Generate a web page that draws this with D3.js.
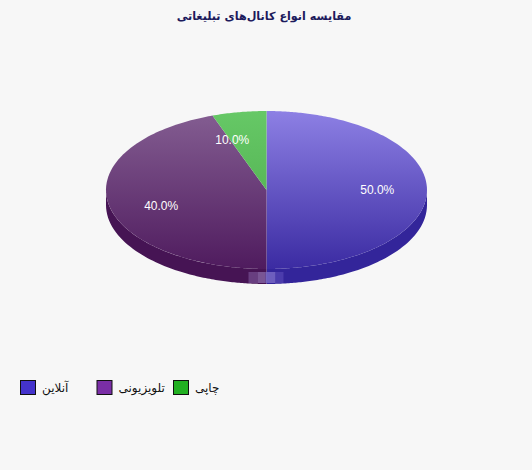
<!DOCTYPE html>
<html>
<head>
<meta charset="utf-8">
<script src="https://cdn.jsdelivr.net/npm/d3@7"></script>
<style>
  html, body { margin: 0; padding: 0; background: #f7f7f7; }
  svg { display: block; }
</style>
</head>
<body>
<svg id="chart" width="532" height="470"></svg>
<script>
/* --- Data --- */
const titleText = "مقایسه انواع کانال‌های تبلیغاتی";
const channels = ["آنلاین", "تلویزیونی", "چاپی"];
const shares = [50, 40, 10];

/* --- Style --- */
const COLORS = {
    legend: ["#4433cc", "#7a2ea6", "#22b022"],
    top: ["#8d80e4", "#845e92", "#66c866"],
    bottom: ["#3b2ba2", "#4f1b5e", "#4aa84a"],
    side: ["#33259a", "#461454", "#3f963f"]
};

const W = 532, H = 470;
const cx = 266.5, cy = 190, rx = 160.5, ry = 79, depth = 15;

const svg = d3.select("#chart");
svg.append("rect").attr("width", W).attr("height", H).attr("fill", "#f7f7f7");

// Title
svg.append("text")
    .attr("x", 264).attr("y", 20)
    .attr("text-anchor", "middle")
    .attr("font-family", "DejaVu Sans, sans-serif")
    .attr("font-size", 11.2)
    .attr("font-weight", "bold")
    .attr("fill", "#1c1a5c")
    .text(titleText);

const data = channels.map((c, i) => ({ name: c, value: shares[i], idx: i }));
const pie = d3.pie().value(d => d.value).sort(null);
const arcs = pie(data);
const total = d3.sum(shares);

// point on ellipse edge along screen angle (clockwise from top)
function edge(a, dy = 0) {
    const s = Math.sin(a), c = Math.cos(a);
    const r = 1 / Math.sqrt((s / rx) ** 2 + (c / ry) ** 2);
    return [cx + r * s, cy - r * c + dy];
}
function sampleAngles(a0, a1) {
    const n = Math.max(2, Math.ceil((a1 - a0) / 0.02));
    return d3.range(n + 1).map(k => a0 + (a1 - a0) * k / n);
}

// Gradients
const defs = svg.append("defs");
data.forEach((d, i) => {
    const g = defs.append("linearGradient")
        .attr("id", "grad" + i)
        .attr("gradientUnits", "userSpaceOnUse")
        .attr("x1", 0).attr("x2", 0)
        .attr("y1", cy - ry).attr("y2", cy + ry);
    g.append("stop").attr("offset", "0%").attr("stop-color", COLORS.top[i]);
    g.append("stop").attr("offset", "100%").attr("stop-color", COLORS.bottom[i]);
});

// Side walls (front half only)
const line = d3.line();
arcs.forEach(a => {
    const lo = Math.max(a.startAngle, Math.PI / 2);
    const hi = Math.min(a.endAngle, Math.PI * 1.5);
    if (hi <= lo) return;
    const angs = sampleAngles(lo, hi);
    const pts = angs.map(t => edge(t)).concat(angs.slice().reverse().map(t => edge(t, depth)));
    svg.append("path")
        .attr("d", line(pts) + "Z")
        .attr("fill", COLORS.side[a.data.idx]);
});

// Top faces
arcs.forEach(a => {
    const pts = [[cx, cy]].concat(sampleAngles(a.startAngle, a.endAngle).map(t => edge(t)));
    svg.append("path")
        .attr("d", line(pts) + "Z")
        .attr("fill", `url(#grad${a.data.idx})`);
});

// Cut-face strips at the bottom slice boundary
const cut = arcs.find(a => Math.abs(a.endAngle - Math.PI) < 1e-6);
if (cut) {
    const [bx, by] = edge(cut.endAngle);
    const strips = [
        { dx: -18, w: 9, c: "#6e4588", o: 0.85 },
        { dx: -9, w: 8, c: "#8260a0", o: 0.85 },
        { dx: -1, w: 10, c: "#7868c4", o: 0.85 },
        { dx: 9, w: 8, c: "#5646b4", o: 0.7 }
    ];
    svg.selectAll("rect.cut").data(strips).enter().append("rect")
        .attr("class", "cut")
        .attr("x", s => bx + s.dx).attr("y", by + 3)
        .attr("width", s => s.w).attr("height", depth - 4)
        .attr("fill", s => s.c).attr("opacity", s => s.o);
}

// Percentage labels (parametric position)
const fmt = d3.format(".1f");
svg.selectAll("text.pct").data(arcs).enter().append("text")
    .attr("class", "pct")
    .attr("x", a => cx + 0.69 * rx * Math.sin((a.startAngle + a.endAngle) / 2))
    .attr("y", a => cy - 0.66 * ry * Math.cos((a.startAngle + a.endAngle) / 2) + 4)
    .attr("text-anchor", "middle")
    .attr("font-family", "Liberation Sans, Arial, sans-serif")
    .attr("font-size", 12)
    .attr("fill", "#ffffff")
    .text(a => fmt(a.data.value / total * 100) + "%");

// Legend
const legend = svg.append("g");
const item = legend.selectAll("g").data(data).enter().append("g")
    .attr("transform", (d, i) => `translate(${20 + i * 76.5}, 380)`);
item.append("rect")
    .attr("x", 0.5).attr("y", 0.5)
    .attr("width", 15).attr("height", 14)
    .attr("fill", d => COLORS.legend[d.idx])
    .attr("stroke", "#111");
item.append("text")
    .attr("x", 22).attr("y", 12)
    .attr("text-anchor", "start")
    .attr("font-family", "DejaVu Sans, sans-serif")
    .attr("font-size", 12)
    .attr("fill", "#111")
    .text(d => d.name);
</script>
</body>
</html>
